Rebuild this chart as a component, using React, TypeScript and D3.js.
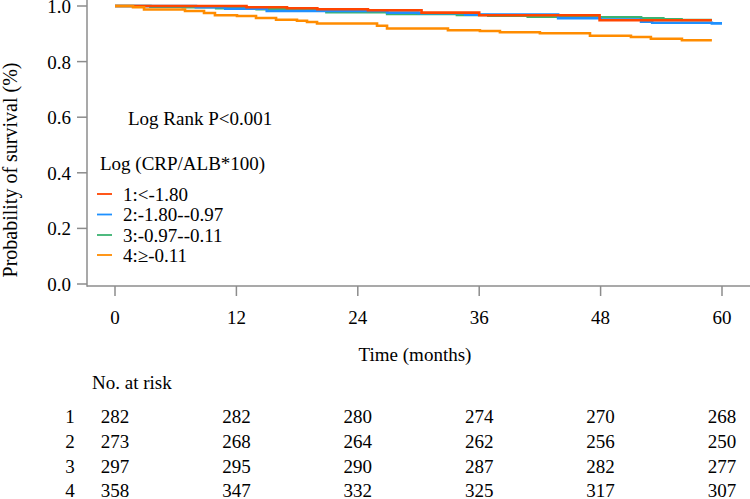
import React from "react";
import * as d3 from "d3";

type Pt = [number, number];

const groupNames = ["1:<-1.80", "2:-1.80--0.97", "3:-0.97--0.11", "4:\u2265-0.11"];
const groupColors = ["#FF4500", "#1E90FF", "#3CB371", "#FF8C00"];

const series1: Pt[] = [
  [0, 1.0], [13.0, 0.9953], [17.0, 0.9917], [20.0, 0.9881], [25.0, 0.9845],
  [30.3, 0.976], [36.0, 0.9665], [47.9, 0.9485], [59.0, 0.9485],
];
const series2: Pt[] = [
  [0, 1.0], [8.0, 0.996], [10.9, 0.9899], [15.0, 0.982], [26.9, 0.976],
  [30.0, 0.9737], [34.6, 0.969], [43.8, 0.9558], [48.0, 0.951], [52.0, 0.9433],
  [53.1, 0.9397], [59.0, 0.9374], [60.0, 0.9374],
];
const series3: Pt[] = [
  [0, 1.0], [3.5, 0.9976], [6.7, 0.9953], [10.0, 0.9917], [14.0, 0.9881],
  [20.9, 0.9773], [26.9, 0.9712], [33.8, 0.9676], [36.9, 0.965], [40.8, 0.9617],
  [46.9, 0.9594], [52.0, 0.9557], [54.2, 0.9525], [56.0, 0.9496], [59.0, 0.9496],
];
const series4: Pt[] = [
  [0, 1.0], [1.78, 0.9953], [2.87, 0.9874], [6.92, 0.982], [8.8, 0.9748],
  [9.88, 0.9665], [12.06, 0.964], [13.94, 0.9568], [15.92, 0.9507], [17.99, 0.9471],
  [18.98, 0.9424], [19.97, 0.9371], [25.9, 0.9291], [26.89, 0.919], [32.91, 0.9126],
  [36.07, 0.91], [38.05, 0.9054], [42.0, 0.9018], [46.95, 0.8932], [51.0, 0.8885],
  [52.97, 0.8824], [56.04, 0.8766], [59.0, 0.8766],
];
const allSeries = [series1, series2, series3, series4];
const drawOrder = [2, 1, 0, 3];

const xTicks = [0, 12, 24, 36, 48, 60];
const yTicks = [0, 0.2, 0.4, 0.6, 0.8, 1.0];
const riskRows = ["1", "2", "3", "4"];
const riskValues = [
  [282, 282, 280, 274, 270, 268],
  [273, 268, 264, 262, 256, 250],
  [297, 295, 290, 287, 282, 277],
  [358, 347, 332, 325, 317, 307],
];

const FONT = "'Liberation Serif', 'Times New Roman', serif";
const FS = 19;
const AXIS = "#8c8c8c";

export default function App() {
  const x = d3.scaleLinear().domain([0, 60]).range([115, 722]);
  const y = d3.scaleLinear().domain([0, 1]).range([284, 6]);
  const line = d3
    .line<Pt>()
    .x((d) => x(d[0]))
    .y((d) => y(d[1]))
    .curve(d3.curveStepAfter);

  const axisX0 = 87;
  const axisY0 = 286;
  const legendY = [194, 214.5, 235, 255];
  const riskY = [416, 441, 466, 490];

  return (
    <svg
      width={750}
      height={499}
      style={{ position: "absolute", left: 0, top: 0, background: "#fff" }}
      fontFamily={FONT}
      fontSize={FS}
    >
      <rect x={0} y={0} width={750} height={499} fill="#fff" />
      {/* axes */}
      <line x1={axisX0} y1={0} x2={axisX0} y2={axisY0 + 0.75} stroke={AXIS} strokeWidth={1.5} />
      <line x1={axisX0} y1={axisY0} x2={750} y2={axisY0} stroke={AXIS} strokeWidth={1.5} />
      {yTicks.map((t) => (
        <g key={"y" + t}>
          <line x1={77} x2={axisX0} y1={y(t)} y2={y(t)} stroke={AXIS} strokeWidth={1.5} />
          <text x={71} y={y(t) + 7} textAnchor="end" fill="#000">
            {t.toFixed(1)}
          </text>
        </g>
      ))}
      {xTicks.map((t) => (
        <g key={"x" + t}>
          <line x1={x(t)} x2={x(t)} y1={axisY0} y2={296} stroke={AXIS} strokeWidth={1.5} />
          <text x={x(t)} y={324} textAnchor="middle" fill="#000">
            {t}
          </text>
        </g>
      ))}
      <text x={415} y={361} textAnchor="middle" fill="#000">
        Time (months)
      </text>
      <text
        transform={`translate(17,170) rotate(-90)`}
        textAnchor="middle"
        fill="#000"
        fontSize={20}
      >
        Probability of survival (%)
      </text>

      {/* curves */}
      {drawOrder.map((i) => (
        <path
          key={"s" + i}
          d={line(allSeries[i]) || ""}
          fill="none"
          stroke={groupColors[i]}
          strokeWidth={2.6}
        />
      ))}

      {/* annotations */}
      <text x={128} y={124.5} fill="#000">
        Log Rank P&lt;0.001
      </text>
      <text x={100} y={170} fill="#000">
        Log (CRP/ALB*100)
      </text>
      {groupNames.map((n, i) => (
        <g key={"l" + i}>
          <line x1={97} x2={112} y1={legendY[i]} y2={legendY[i]} stroke={groupColors[i]} strokeWidth={1.8} />
          <text x={123} y={legendY[i] + 6.5} fill="#000">
            {n}
          </text>
        </g>
      ))}

      {/* risk table */}
      <text x={92} y={389} fill="#000">
        No. at risk
      </text>
      {riskRows.map((r, ri) => (
        <g key={"r" + r}>
          <text x={70} y={riskY[ri] + 6.5} textAnchor="middle" fill="#000">
            {r}
          </text>
          {riskValues[ri].map((v, ci) => (
            <text key={ci} x={x(xTicks[ci])} y={riskY[ri] + 6.5} textAnchor="middle" fill="#000">
              {v}
            </text>
          ))}
        </g>
      ))}
    </svg>
  );
}
